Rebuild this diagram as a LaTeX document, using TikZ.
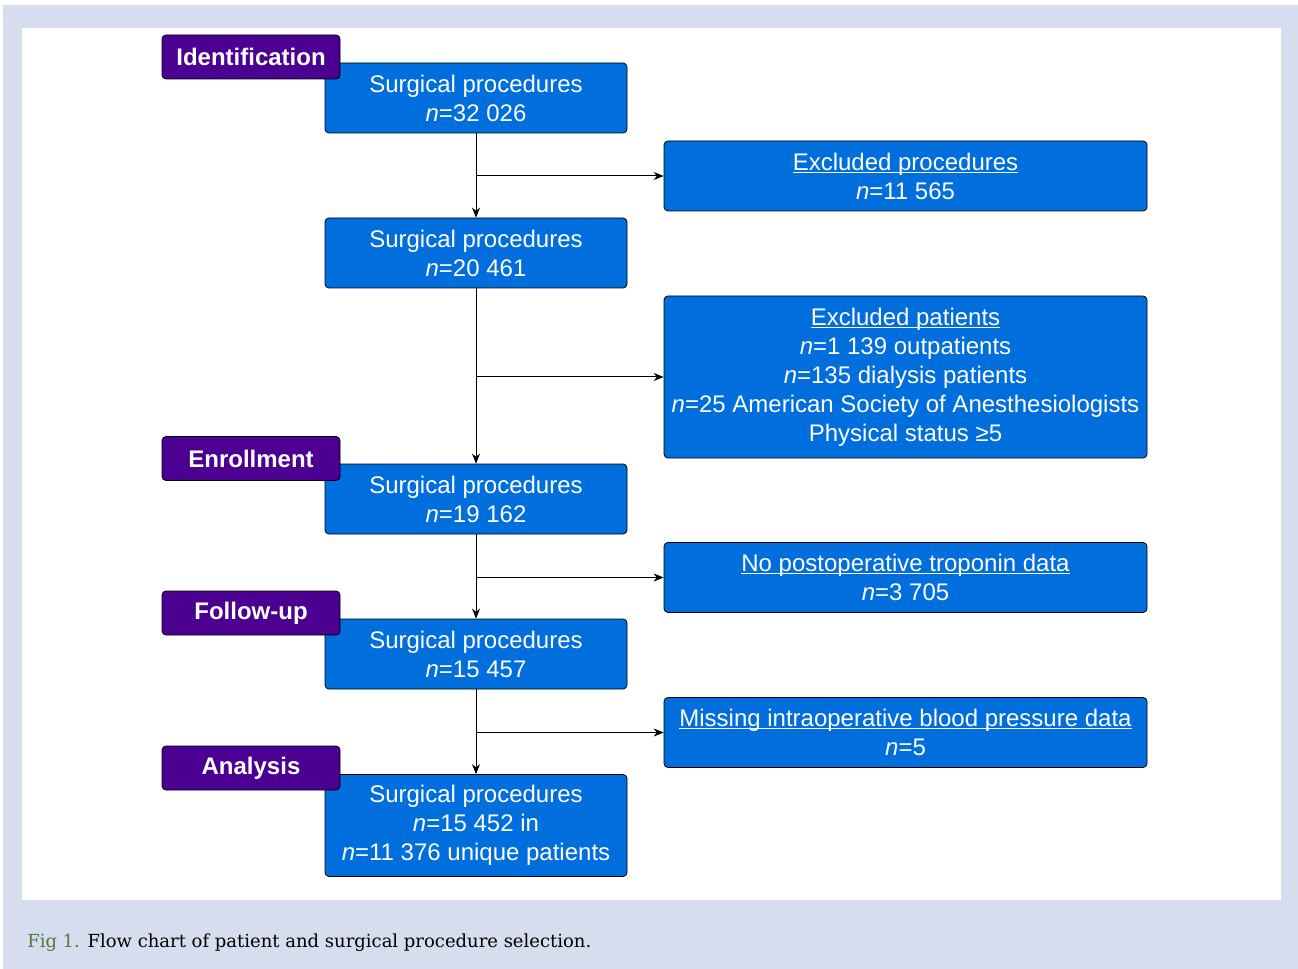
\documentclass[tikz,border=0pt]{standalone}
\usepackage{fontspec}
\usetikzlibrary{arrows.meta}
\setmainfont{Liberation Sans}
\newfontfamily\capfont{DejaVu Serif}
\definecolor{boxblue}{RGB}{0,110,220}
\definecolor{stagepurple}{RGB}{75,0,145}
\definecolor{panelbg}{RGB}{213,221,238}
\definecolor{figgreen}{RGB}{78,126,54}
\newcommand\headline[1]{\underline{\smash{#1}}\vphantom{#1}}
\begin{document}
\begin{tikzpicture}[>={Stealth[length=7.5pt,width=6pt]},x=0.75pt,y=-0.75pt,
	proc/.style={draw=black,fill=boxblue,text=white,rounded corners=3pt,line width=0.6pt,
		minimum width=226.5pt,minimum height=52.5pt,inner sep=0pt,align=center,
		font=\fontsize{18}{21.75}\selectfont},
	excl/.style={proc,minimum width=362.25pt},
	stage/.style={draw=black,fill=stagepurple,text=white,rounded corners=3pt,line width=0.6pt,
		minimum width=133.5pt,minimum height=33pt,inner sep=0pt,
		font=\fontsize{18}{21.75}\selectfont\bfseries},
	flow/.style={->,line width=0.75pt}]
	\useasboundingbox (0,0) rectangle (1298,969);
	% panel
	\fill[panelbg] (3,5) rectangle (1298,969);
	\fill[white] (22,28) rectangle (1281,900);
	% main column
	\node[proc] (s1) at (476,98) {Surgical procedures\\\textit{n}=32 026};
	\node[proc] (s2) at (476,253) {Surgical procedures\\\textit{n}=20 461};
	\node[proc] (s3) at (476,499) {Surgical procedures\\\textit{n}=19 162};
	\node[proc] (s4) at (476,654) {Surgical procedures\\\textit{n}=15 457};
	\node[proc,minimum height=76.5pt] (s5) at (476,825.5) {Surgical procedures\\\textit{n}=15 452 in\\\textit{n}=11 376 unique patients};
	% exclusions
	\node[excl] (e1) at (905.5,176) {\headline{Excluded procedures}\\\textit{n}=11 565};
	\node[excl,minimum height=121.5pt] (e2) at (905.5,377) {\headline{Excluded patients}\\\textit{n}=1 139 outpatients\\\textit{n}=135 dialysis patients\\\textit{n}=25 American Society of Anesthesiologists\\Physical status ≥5};
	\node[excl] (e3) at (905.5,577.5) {\headline{No postoperative troponin data}\\\textit{n}=3 705};
	\node[excl] (e4) at (905.5,732.5) {\headline{Missing intraoperative blood pressure data}\\\textit{n}=5};
	% stage labels
	\node[stage] (id) at (251,57) {Identification};
	\node[stage] (enr) at (251,458.5) {Enrollment};
	\node[stage] (fol) at (251,613) {Follow-up};
	\node[stage] (ana) at (251,768) {Analysis};
	% arrows
	\draw[flow] (s1) -- (s2);
	\draw[flow] (s2) -- (s3);
	\draw[flow] (s3) -- (s4);
	\draw[flow] (s4) -- (s5);
	\draw[flow] (s1 |- e1) -- (e1);
	\draw[flow] (s2 |- e2) -- (e2);
	\draw[flow] (s3 |- e3) -- (e3);
	\draw[flow] (s4 |- e4) -- (e4);
	% caption
	\node[anchor=base west,inner sep=0pt,font=\capfont\fontsize{13.5}{16}\selectfont] (cap) at (27,947)
		{\textcolor{figgreen}{Fig 1.} Flow chart of patient and surgical procedure selection.};
\end{tikzpicture}
\end{document}
